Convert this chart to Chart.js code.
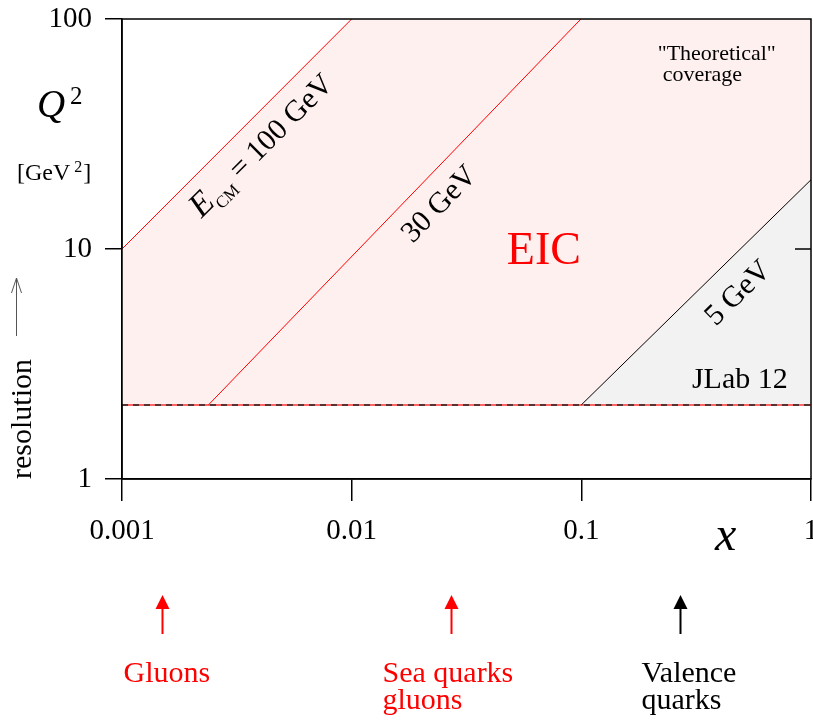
<!DOCTYPE html>
<html>
<head>
<meta charset="utf-8">
<title>EIC kinematic coverage</title>
<script src="https://cdn.jsdelivr.net/npm/chart.js@4.4.0/dist/chart.umd.min.js"></script>
<style>
  html, body { margin: 0; padding: 0; background: #fff; overflow: hidden; }
  #wrap { width: 830px; height: 721px; }
</style>
</head>
<body>
<div id="wrap"><canvas id="cov" width="830" height="721"></canvas></div>
<script>
// ----------- DATA ------------
// axis decades
const xTicks = [0.001, 0.01, 0.1, 1];
const xTickLabels = ['0.001', '0.01', '0.1', '1'];
const yTicks = [1, 10, 100];
const yTickLabels = ['1', '10', '100'];

// lowest Q^2 reached (GeV^2)
const qMin = 2.1;

// kinematic limits for each collider energy (x, Q^2 end points)
const ecm100X = [0.001, 0.01];
const ecm100Q2 = [10, 100];
const ecm30X = [0.00238, 0.0996];
const ecm30Q2 = [2.1, 100];
const ecm5X = [0.1, 1];
const ecm5Q2 = [2.1, 20];

// upper edge of the EIC region
const eicX = [0.001, 0.01, 1];
const eicQ2 = [10, 100, 100];

// range of the Q^2 cut line
const cutX = [0.001, 1];

// what each x range probes
const probeX = [0.0015, 0.027, 0.27];
const probeNames = [['Gluons'], ['Sea quarks', 'gluons'], ['Valence', 'quarks']];

// ----------- HELPERS ------------
const SERIF = '"Liberation Serif", "Times New Roman", serif';

function pts(xs, ys) {
  return xs.map((x, i) => ({ x: x, y: ys[i] }));
}

function lineAngle(chart, xs, ys) {
  const sx = chart.scales.x, sy = chart.scales.y;
  const dx = sx.getPixelForValue(xs[1]) - sx.getPixelForValue(xs[0]);
  const dy = sy.getPixelForValue(ys[1]) - sy.getPixelForValue(ys[0]);
  return Math.atan2(dy, dx);
}

// draws a sequence of text pieces along a rotated baseline, centred on (cx, cy)
function rotatedText(ctx, parts, cx, cy, angle, color) {
  ctx.save();
  ctx.translate(cx, cy);
  ctx.rotate(angle);
  ctx.fillStyle = color;
  ctx.textBaseline = 'alphabetic';
  let total = 0;
  parts.forEach(p => { ctx.font = p.font; total += ctx.measureText(p.t).width; });
  let x = -total / 2;
  parts.forEach(p => {
    ctx.font = p.font;
    ctx.fillText(p.t, x, 10 + (p.dy || 0));
    x += ctx.measureText(p.t).width;
  });
  ctx.restore();
}

function upArrow(ctx, x, top, bottom, color) {
  ctx.save();
  ctx.strokeStyle = color;
  ctx.fillStyle = color;
  ctx.lineWidth = 2;
  ctx.beginPath();
  ctx.moveTo(x, top + 12);
  ctx.lineTo(x, bottom);
  ctx.stroke();
  ctx.beginPath();
  ctx.moveTo(x, top);
  ctx.lineTo(x - 7, top + 14);
  ctx.lineTo(x + 7, top + 14);
  ctx.closePath();
  ctx.fill();
  ctx.restore();
}

// ----------- PLUGIN : frame and annotations ------------
const annotations = {
  id: 'annotations',
  afterDraw(chart) {
    const ctx = chart.ctx;
    const sx = chart.scales.x, sy = chart.scales.y;
    const a = chart.chartArea;
    const P = (x, q) => [sx.getPixelForValue(x), sy.getPixelForValue(q)];

    // box around the plot + inner tick on the right side
    ctx.save();
    ctx.strokeStyle = '#000';
    ctx.lineWidth = 1.5;
    ctx.strokeRect(a.left, a.top, a.right - a.left, a.bottom - a.top);
    ctx.beginPath();
    yTicks.slice(1, -1).forEach(v => {
      const y = sy.getPixelForValue(v);
      ctx.moveTo(a.right - 16, y);
      ctx.lineTo(a.right, y);
    });
    ctx.stroke();
    ctx.restore();

    // labels inside the plot
    ctx.save();
    ctx.fillStyle = '#f00';
    ctx.font = '46px ' + SERIF;
    ctx.textAlign = 'center';
    ctx.textBaseline = 'middle';
    let p = P(0.0687, 9.7);
    ctx.fillText('EIC', p[0], p[1]);

    ctx.fillStyle = '#000';
    ctx.textAlign = 'left';
    ctx.textBaseline = 'alphabetic';
    ctx.font = '22px ' + SERIF;
    p = P(0.215, 66.3);
    ctx.fillText('"Theoretical"', p[0], p[1]);
    p = P(0.226, 53.7);
    ctx.fillText('coverage', p[0], p[1]);
    ctx.font = '30px ' + SERIF;
    p = P(0.303, 2.49);
    ctx.fillText('JLab 12', p[0], p[1]);
    ctx.restore();

    const f30 = '30px ' + SERIF;
    p = P(0.00403, 28.3);
    rotatedText(ctx, [
      { t: 'E', font: 'italic 34px ' + SERIF },
      { t: 'CM', font: '17px ' + SERIF, dy: 8 },
      { t: ' = 100 GeV', font: f30 }
    ], p[0], p[1], lineAngle(chart, ecm100X, ecm100Q2), '#000');
    p = P(0.0238, 15.8);
    rotatedText(ctx, [{ t: '30 GeV', font: f30 }], p[0], p[1], lineAngle(chart, ecm30X, ecm30Q2), '#000');
    p = P(0.476, 6.5);
    rotatedText(ctx, [{ t: '5 GeV', font: f30 }], p[0], p[1], lineAngle(chart, ecm5X, ecm5Q2), '#000');

    // axis titles
    ctx.save();
    ctx.fillStyle = '#000';
    ctx.textBaseline = 'alphabetic';
    ctx.font = 'italic 39px ' + SERIF;
    ctx.fillText('Q', 37, 117);
    ctx.font = '25px ' + SERIF;
    ctx.fillText('2', 70, 104);
    ctx.font = '24px ' + SERIF;
    ctx.fillText('[GeV', 17, 180);
    let w = ctx.measureText('[GeV').width;
    ctx.font = '16px ' + SERIF;
    ctx.fillText('2', 17 + w + 4, 172);
    let w2 = ctx.measureText('2').width;
    ctx.font = '24px ' + SERIF;
    ctx.fillText(']', 17 + w + 4 + w2 + 1, 180);

    ctx.font = 'italic 48px ' + SERIF;
    ctx.fillText('x', 715, 550);

    // resolution label with its arrow
    ctx.save();
    ctx.translate(31, 419);
    ctx.rotate(-Math.PI / 2);
    ctx.font = '30px ' + SERIF;
    ctx.textAlign = 'center';
    ctx.fillText('resolution', 0, 0);
    ctx.restore();
    ctx.strokeStyle = '#555';
    ctx.lineWidth = 1;
    ctx.beginPath();
    ctx.moveTo(16.5, 278);
    ctx.lineTo(16.5, 336);
    ctx.moveTo(11.5, 293);
    ctx.lineTo(16.5, 278);
    ctx.lineTo(21.5, 293);
    ctx.stroke();
    ctx.restore();

    // what the different x regions probe
    const probeColor = ['#f00', '#f00', '#000'];
    const textShift = [-39, -69, -39];
    ctx.save();
    ctx.font = '30px ' + SERIF;
    ctx.textBaseline = 'alphabetic';
    probeX.forEach((x, i) => {
      const px = Math.round(sx.getPixelForValue(x)) + 0.5;
      upArrow(ctx, px, 595, 634, probeColor[i]);
      ctx.fillStyle = probeColor[i];
      probeNames[i].forEach((line, j) => {
        ctx.fillText(line, px + textShift[i], 682 + j * 27);
      });
    });
    ctx.restore();
  }
};

// ----------- CHART ------------
function chart_layout() {
  new Chart(document.getElementById('cov'), {
    type: 'line',
    data: {
      datasets: [
        { // 100 GeV limit
          data: pts(ecm100X, ecm100Q2),
          borderColor: '#f00', borderWidth: 1, pointRadius: 0, fill: false, order: 1
        },
        { // 30 GeV limit
          data: pts(ecm30X, ecm30Q2),
          borderColor: '#f00', borderWidth: 1, pointRadius: 0, fill: false, order: 1
        },
        { // 5 GeV limit (JLab 12)
          data: pts(ecm5X, ecm5Q2),
          borderColor: '#000', borderWidth: 1, pointRadius: 0, fill: false, order: 1
        },
        { // Q^2 cut, dashed on top of red
          data: pts(cutX, [qMin, qMin]),
          borderColor: '#222', borderWidth: 1.5, borderDash: [6, 5], pointRadius: 0, fill: false, order: 0
        },
        {
          data: pts(cutX, [qMin, qMin]),
          borderColor: '#f33', borderWidth: 1.5, pointRadius: 0, fill: false, order: 2
        },
        { // JLab 12 region
          data: pts(ecm5X, ecm5Q2),
          borderWidth: 0, borderColor: 'rgba(0,0,0,0)', backgroundColor: 'rgb(242,242,242)',
          pointRadius: 0, fill: { value: qMin }, order: 5
        },
        { // EIC region
          data: pts(eicX, eicQ2),
          borderWidth: 0, borderColor: 'rgba(0,0,0,0)', backgroundColor: 'rgb(255,240,240)',
          pointRadius: 0, fill: { value: qMin }, order: 10
        }
      ]
    },
    options: {
      responsive: false,
      devicePixelRatio: 1,
      animation: false,
      layout: { padding: { left: 0, right: 19, top: 19, bottom: 0 } },
      plugins: { legend: { display: false }, tooltip: { enabled: false } },
      scales: {
        x: {
          type: 'logarithmic',
          min: 0.001, max: 1,
          afterBuildTicks: s => { s.ticks = xTicks.map(v => ({ value: v })); },
          // fixed axis height, and let the last label hang over the edge
          afterFit: s => { s.height = 242; s.paddingLeft = 0; s.paddingRight = 0; },
          grid: { drawOnChartArea: false, tickLength: 22, color: '#000', lineWidth: 1.5 },
          border: { display: true, color: '#000', width: 1.5 },
          ticks: {
            autoSkip: false, maxRotation: 0, padding: 13, color: '#000',
            font: { family: SERIF, size: 29 },
            callback: (v, i) => xTickLabels[i]
          }
        },
        y: {
          type: 'logarithmic',
          min: 1, max: 100,
          afterBuildTicks: s => { s.ticks = yTicks.map(v => ({ value: v })); },
          afterFit: s => { s.width = 122; s.paddingTop = 0; s.paddingBottom = 0; },
          grid: { drawOnChartArea: false, tickLength: 17, color: '#000', lineWidth: 1.5 },
          border: { display: true, color: '#000', width: 1.5 },
          ticks: {
            autoSkip: false, padding: 13, color: '#000',
            font: { family: SERIF, size: 29 },
            callback: (v, i) => yTickLabels[i]
          }
        }
      }
    },
    plugins: [annotations]
  });
}

document.addEventListener('DOMContentLoaded', function() {
  chart_layout();
});
</script>
</body>
</html>
